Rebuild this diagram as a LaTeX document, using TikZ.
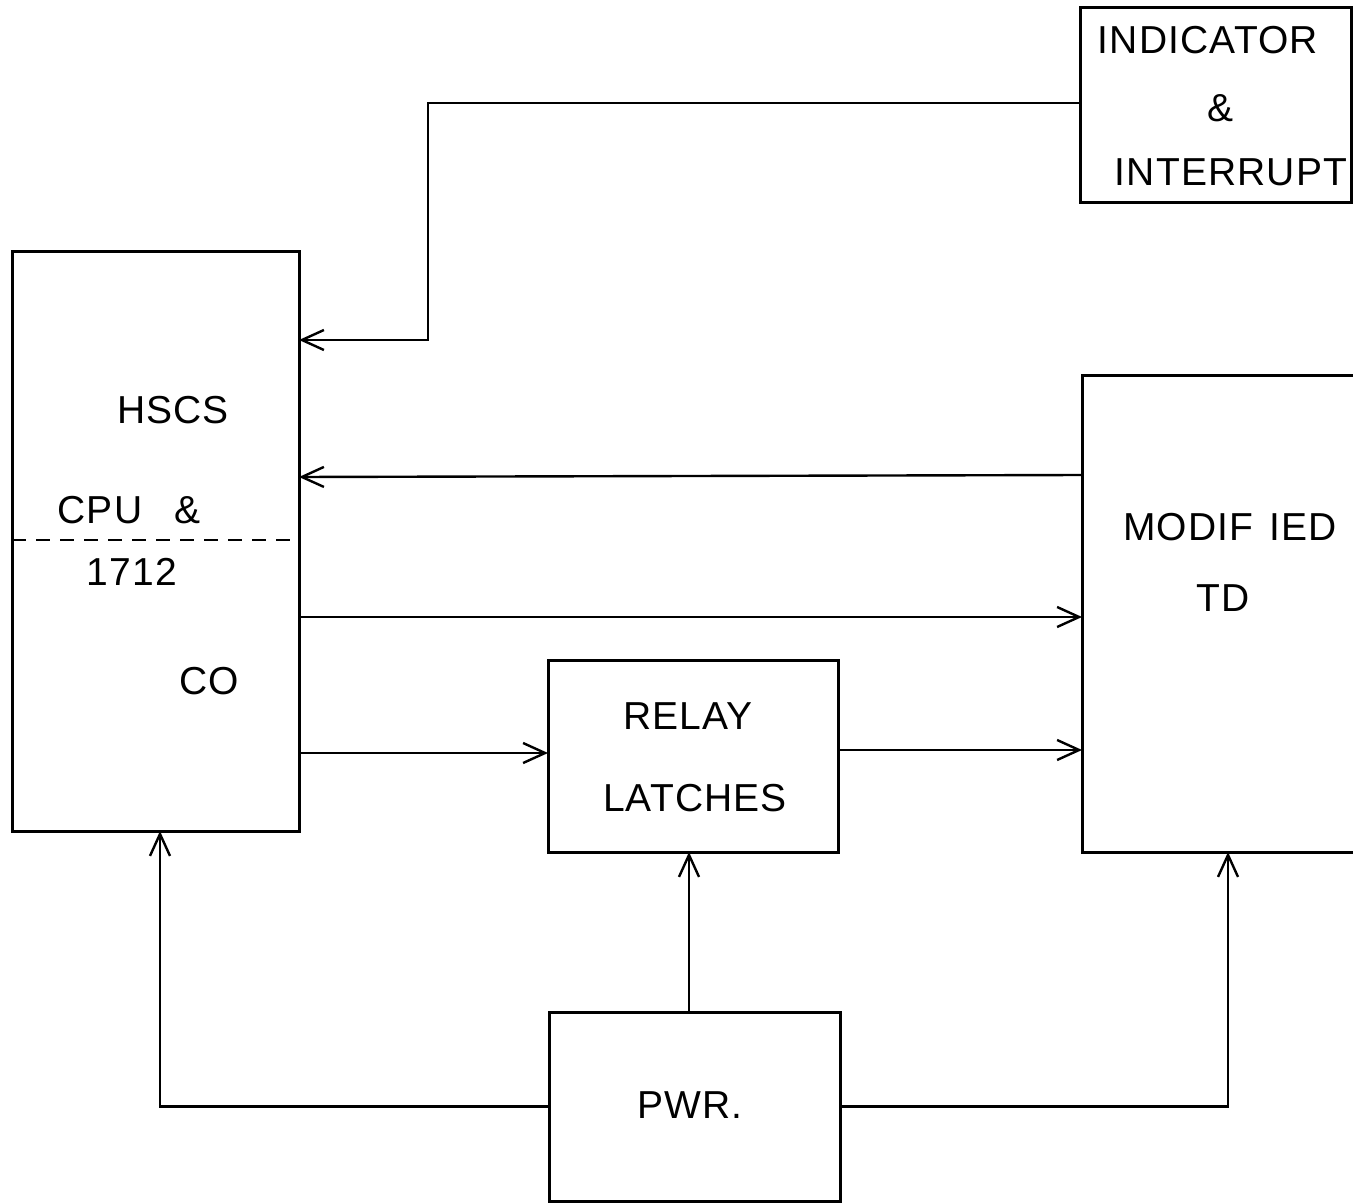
\documentclass[tikz,border=0pt]{standalone}
\usepackage{fontspec}
\setmainfont{Liberation Sans}[LetterSpace=3]
\usetikzlibrary{arrows.meta}
\begin{document}
\begin{tikzpicture}[x=0.5pt,y=-0.5pt,
  box/.style={draw,line width=1.5pt,inner sep=0pt,outer sep=0pt},
  txt/.style={inner sep=0pt,font=\fontsize{19.5}{22}\selectfont},
  arr/.style={line width=1.2pt,-{Straight Barb[length=11pt,width=10pt,line width=1.2pt]}},
  conn/.style={line width=1.2pt}]
\clip (0,0) rectangle (1353,1203);
\fill[white] (0,0) rectangle (1353,1203);
% boxes
\node[box,minimum width=143.5pt,minimum height=289.5pt] (hscs) at (155.5,541.5) {};
\node[box,minimum width=135.5pt,minimum height=97.5pt] (ind) at (1215.5,105.5) {};
\node[box,minimum width=140pt,minimum height=238.5pt] (mtd) at (1222,613.5) {};
\node[box,minimum width=145pt,minimum height=96pt] (relay) at (693,756) {};
\node[box,minimum width=145.5pt,minimum height=94.5pt] (pwr) at (694.5,1106.5) {};
% dashed divider
\draw[line width=1.1pt,dash pattern=on 7pt off 5pt] (hscs.west |- 0,540) -- (hscs.east |- 0,540);
% texts
\node[txt] (t-hscs) at (173,410) {HSCS};
\node[txt] (t-cpu) at (129,510) {CPU\hspace{16pt}\&};
\node[txt] (t-1712) at (132,572) {1712};
\node[txt] (t-co) at (209,681) {CO};
\node[txt] (t-ind) at (1208,40) {INDICATOR};
\node[txt] (t-amp) at (1220,108) {\&};
\node[txt] (t-int) at (1231,172) {INTERRUPT};
\node[txt] (t-mod) at (1230,527) {MODIF\hspace{8pt}IED};
\node[txt] (t-td) at (1223,598) {TD};
\node[txt] (t-relay) at (688,716) {RELAY};
\node[txt] (t-latch) at (695,798) {LATCHES};
\node[txt] (t-pwr) at (690,1105) {PWR.};
% connectors
\draw[arr] (ind.west |- 0,103) -- (428,103) |- (hscs.east |- 0,340);
\draw[arr] (mtd.west |- 0,475) -- (hscs.east |- 0,477);
\draw[arr] (hscs.east |- 0,617) -- (mtd.west |- 0,617);
\draw[arr] (hscs.east |- 0,753) -- (relay.west |- 0,753);
\draw[arr] (relay.east |- 0,750) -- (mtd.west |- 0,750);
\draw[arr] (pwr.north -| 689,0) -- (relay.south -| 689,0);
\draw[arr] (pwr.west) -| (hscs.south -| 160,0);
\draw[arr] (pwr.east) -| (mtd.south -| 1228,0);
\end{tikzpicture}
\end{document}
